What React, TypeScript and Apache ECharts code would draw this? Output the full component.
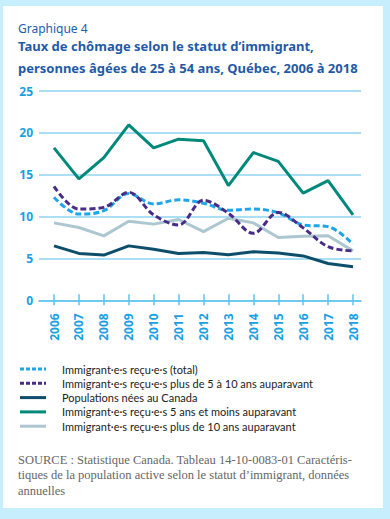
import React, { useEffect, useRef } from "react";
import * as echarts from "echarts";

const years = ["2006", "2007", "2008", "2009", "2010", "2011", "2012", "2013", "2014", "2015", "2016", "2017", "2018"];

const totalImmigrants = [12.3, 10.3, 10.7, 12.75, 11.5, 12.0, 11.6, 10.75, 10.9, 10.45, 9.0, 8.8, 6.7];
const immig5to10 = [13.6, 10.9, 11.1, 12.9, 10.2, 9.0, 11.95, 10.4, 8.0, 10.5, 8.65, 6.4, 5.9];
const bornCanada = [6.5, 5.6, 5.4, 6.5, 6.1, 5.6, 5.7, 5.45, 5.8, 5.65, 5.3, 4.4, 4.0];
const immig5less = [18.2, 14.5, 17.05, 20.95, 18.2, 19.25, 19.05, 13.7, 17.65, 16.6, 12.8, 14.3, 10.2];
const immig10plus = [9.25, 8.7, 7.7, 9.45, 9.1, 9.65, 8.2, 9.8, 9.25, 7.5, 7.65, 7.7, 5.9];

const seriesNames = [
  "Immigrant·e·s reçu·e·s (total)",
  "Immigrant·e·s reçu·e·s plus de 5 à 10 ans auparavant",
  "Populations nées au Canada",
  "Immigrant·e·s reçu·e·s 5 ans et moins auparavant",
  "Immigrant·e·s reçu·e·s plus de 10 ans auparavant",
];
const seriesColors = ["#1ea6e8", "#4a2c86", "#0d4f6b", "#00897b", "#adc7d1"];
const seriesDashed = [true, true, false, false, false];

export default function App() {
  const ref = useRef<HTMLDivElement>(null);
  useEffect(() => {
    if (!ref.current) return;
    const chart = echarts.init(ref.current, null, { renderer: "svg" });
    const sans = "Noto Sans";
    const axisBlue = "#5cc3ee";
    const labelBlue = "#1aa0e2";
    const mk = (idx: number, vals: number[], smooth: boolean, z: number) => ({
      name: seriesNames[idx],
      type: "line",
      xAxisIndex: 0,
      yAxisIndex: 0,
      data: vals,
      symbol: "none",
      smooth: smooth ? 0.35 : false,
      z,
      lineStyle: { color: seriesColors[idx], width: 3, type: seriesDashed[idx] ? [6, 3] : "solid" },
      itemStyle: { color: seriesColors[idx] },
    });
    const graphics: any[] = [
      { type: "rect", shape: { x: 3, y: 6, width: 380, height: 502 }, style: { fill: "#ffffff" }, z: -10 },
      { type: "text", x: 18, y: 22, style: { text: "Graphique 4", font: `12px "${sans}"`, fill: "#2060ad" } },
      { type: "text", x: 18, y: 39, style: { text: "Taux de chômage selon le statut d’immigrant,", font: `bold 13px "${sans}"`, fill: "#1f5aa6" } },
      { type: "text", x: 18, y: 61, style: { text: "personnes âgées de 25 à 54 ans, Québec, 2006 à 2018", font: `bold 13px "${sans}"`, fill: "#1f5aa6" } },
      {
        type: "text",
        x: 18,
        y: 452,
        style: {
          text:
            "SOURCE : Statistique Canada. Tableau 14-10-0083-01 Caractéris-\ntiques de la population active selon le statut d’immigrant, données\nannuelles",
          font: `12.5px "Liberation Serif"`,
          lineHeight: 15.5,
          fill: "#666666",
        },
      },
    ];
    seriesNames.forEach((n, i) => {
      const cy = 369 + i * 14.3;
      graphics.push({
        type: "line",
        shape: { x1: 20, y1: cy, x2: 46, y2: cy },
        style: { stroke: seriesColors[i], lineWidth: 3, lineDash: seriesDashed[i] ? [4, 2] : null },
      });
      graphics.push({
        type: "text",
        x: 62,
        y: cy,
        style: { text: n, font: `11px "Lato"`, fill: "#222222", verticalAlign: "middle" },
      });
    });
    chart.setOption({
      animation: false,
      backgroundColor: "#c6eefc",
      graphic: graphics,
      grid: [
        { left: 54, right: 37, top: 91, bottom: 218.7 },
        { left: 39, right: 29, top: 91, bottom: 218.7 },
      ],
      xAxis: [
        {
          type: "category",
          gridIndex: 0,
          data: years,
          boundaryGap: false,
          axisLine: { show: false },
          axisTick: { show: true, interval: 0, length: 5, lineStyle: { color: axisBlue, width: 1.5 } },
          axisLabel: {
            interval: 0,
            rotate: 90,
            margin: 13,
            color: labelBlue,
            fontWeight: "bold",
            fontSize: 12,
            fontFamily: sans,
          },
          splitLine: { show: false },
        },
        {
          type: "category",
          gridIndex: 0,
          data: years,
          boundaryGap: false,
          position: "bottom",
          axisLine: { show: false },
          axisTick: { show: true, inside: true, interval: 0, length: 6, lineStyle: { color: axisBlue, width: 1.5 } },
          axisLabel: { show: false },
          splitLine: { show: false },
        },
        {
          type: "value",
          gridIndex: 1,
          min: 0,
          max: 1,
          axisLine: { show: true, lineStyle: { color: axisBlue, width: 1.5 } },
          axisTick: { show: false },
          axisLabel: { show: false },
          splitLine: { show: false },
        },
      ],
      yAxis: [
        { type: "value", gridIndex: 0, min: 0, max: 25, interval: 5, show: false },
        {
          type: "value",
          gridIndex: 1,
          min: 0,
          max: 25,
          interval: 5,
          axisLine: { show: false },
          axisTick: { show: false },
          splitLine: { lineStyle: { color: "#8fd4f2", width: 1.5 } },
          axisLabel: { margin: 6, color: labelBlue, fontWeight: "bold", fontSize: 12, fontFamily: sans },
        },
      ],
      series: [
        mk(0, totalImmigrants, true, 5),
        mk(1, immig5to10, true, 6),
        mk(2, bornCanada, false, 4),
        mk(3, immig5less, false, 3),
        mk(4, immig10plus, false, 2),
      ],
    });
    return () => chart.dispose();
  }, []);
  return (
    <div style={{ position: "absolute", left: 0, top: 0 }}>
      <div ref={ref} style={{ width: 390, height: 519 }} />
    </div>
  );
}
